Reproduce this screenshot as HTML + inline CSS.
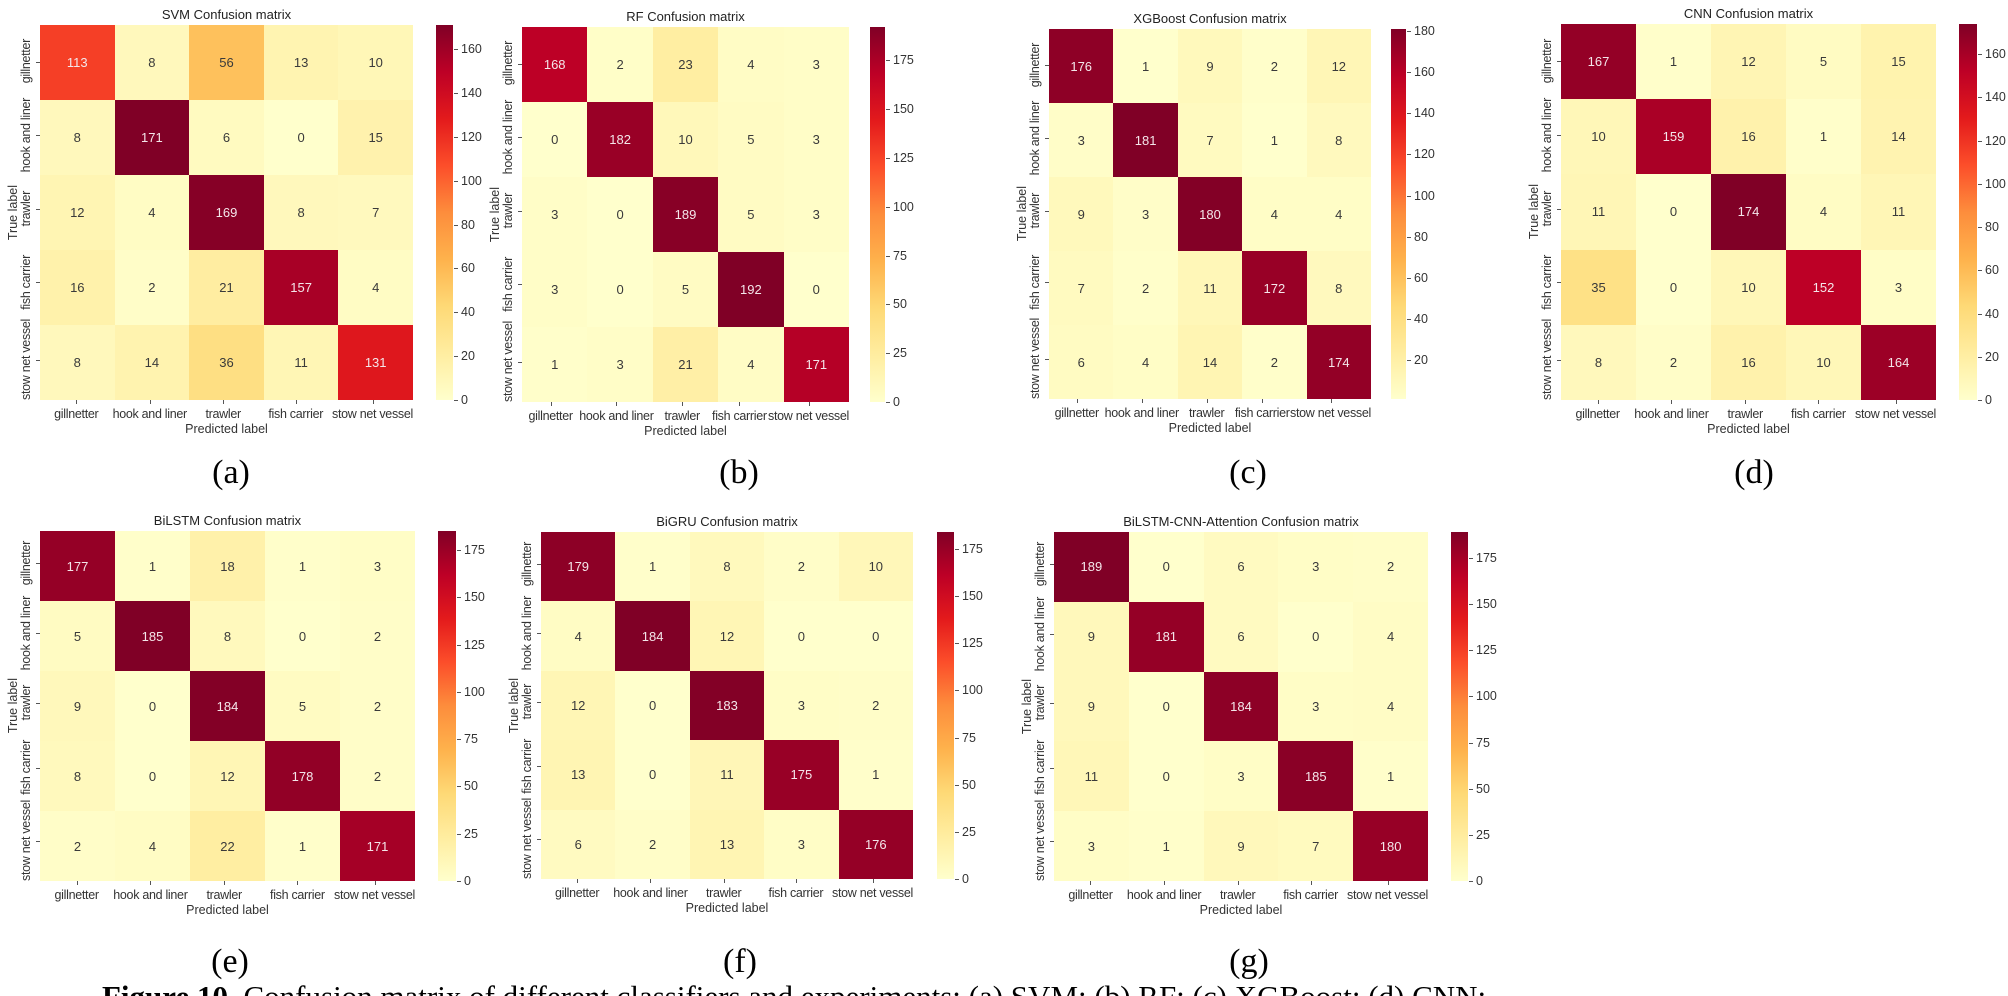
<!DOCTYPE html>
<html><head><meta charset="utf-8">
<style>
html,body{margin:0;padding:0;background:#fff;}
html{width:2008px;height:996px;overflow:hidden;}
body{width:2008px;height:996px;position:relative;overflow:hidden;font-family:"Liberation Sans","DejaVu Sans",sans-serif;color:#333;}
.hm{position:absolute;display:grid;grid-template-columns:repeat(5,1fr);grid-template-rows:repeat(5,1fr);}
.hm>div{display:flex;align-items:center;justify-content:center;font-size:13px;}
.title{position:absolute;bottom:100%;left:-50px;right:-50px;text-align:center;font-size:13px;color:#222;margin-bottom:3px;white-space:nowrap;}
.xt{position:absolute;top:100%;left:0;right:0;display:flex;margin-top:7px;}
.xt span{flex:1;text-align:center;font-size:12.5px;white-space:nowrap;position:relative;letter-spacing:-0.3px;}
.xt span::before{content:"";position:absolute;left:50%;top:-7px;width:1px;height:4px;background:#555;}
.xl{position:absolute;top:100%;left:0;right:0;text-align:center;font-size:12.5px;margin-top:22px;}
.yt{position:absolute;right:100%;top:0;bottom:0;width:16px;margin-right:6px;display:flex;flex-direction:column;}
.yt span{flex:1;display:flex;align-items:center;justify-content:center;position:relative;}
.yt span b{font-weight:normal;writing-mode:vertical-rl;transform:rotate(180deg);font-size:12.5px;white-space:nowrap;letter-spacing:-0.3px;}
.yt span::after{content:"";position:absolute;right:-6px;top:50%;width:4px;height:1px;background:#555;}
.yl{position:absolute;right:100%;top:0;bottom:0;width:14px;margin-right:20px;display:flex;align-items:center;justify-content:center;}
.yl b{font-weight:normal;writing-mode:vertical-rl;transform:rotate(180deg);font-size:12.5px;white-space:nowrap;}
.cb{position:absolute;background:linear-gradient(to top,#ffffcc 0%,#ffeda0 12.5%,#fed976 25%,#feb24c 37.5%,#fd8d3c 50%,#fc4e2a 62.5%,#e31a1c 75%,#bd0026 87.5%,#800026 100%);}
.cb span{position:absolute;left:100%;font-size:12.5px;white-space:nowrap;transform:translateY(-50%);padding-left:8px;}
.cb span::before{content:"";position:absolute;left:1px;top:50%;width:4px;height:1px;background:#555;}
.cap{position:absolute;font-family:"Liberation Serif",serif;font-size:34px;color:#000;transform:translateX(-50%);line-height:1;}
.fig{position:absolute;left:102px;top:981px;font-family:"Liberation Serif",serif;font-size:31px;color:#000;white-space:nowrap;line-height:1;}
</style></head><body>

<!-- (a) SVM -->
<div class="hm" id="p0" style="left:40px;top:25px;width:373px;height:375px;">
<div>113</div><div>8</div><div>56</div><div>13</div><div>10</div>
<div>8</div><div>171</div><div>6</div><div>0</div><div>15</div>
<div>12</div><div>4</div><div>169</div><div>8</div><div>7</div>
<div>16</div><div>2</div><div>21</div><div>157</div><div>4</div>
<div>8</div><div>14</div><div>36</div><div>11</div><div>131</div>
<span class="title">SVM Confusion matrix</span>
<span class="xt"><span>gillnetter</span><span>hook and liner</span><span>trawler</span><span>fish carrier</span><span>stow net vessel</span></span>
<span class="xl">Predicted label</span>
<span class="yt"><span><b>gillnetter</b></span><span><b>hook and liner</b></span><span><b>trawler</b></span><span><b>fish carrier</b></span><span><b>stow net vessel</b></span></span>
<span class="yl"><b>True label</b></span>
</div>
<div class="cb" id="c0" style="left:436px;top:25px;width:17px;height:375px;"><span>0</span><span>20</span><span>40</span><span>60</span><span>80</span><span>100</span><span>120</span><span>140</span><span>160</span></div>

<!-- (b) RF -->
<div class="hm" id="p1" style="left:522px;top:27px;width:327px;height:375px;">
<div>168</div><div>2</div><div>23</div><div>4</div><div>3</div>
<div>0</div><div>182</div><div>10</div><div>5</div><div>3</div>
<div>3</div><div>0</div><div>189</div><div>5</div><div>3</div>
<div>3</div><div>0</div><div>5</div><div>192</div><div>0</div>
<div>1</div><div>3</div><div>21</div><div>4</div><div>171</div>
<span class="title">RF Confusion matrix</span>
<span class="xt"><span>gillnetter</span><span>hook and liner</span><span>trawler</span><span>fish carrier</span><span>stow net vessel</span></span>
<span class="xl">Predicted label</span>
<span class="yt"><span><b>gillnetter</b></span><span><b>hook and liner</b></span><span><b>trawler</b></span><span><b>fish carrier</b></span><span><b>stow net vessel</b></span></span>
<span class="yl"><b>True label</b></span>
</div>
<div class="cb" id="c1" style="left:870px;top:27px;width:15px;height:375px;"><span>0</span><span>25</span><span>50</span><span>75</span><span>100</span><span>125</span><span>150</span><span>175</span></div>

<!-- (c) XGBoost -->
<div class="hm" id="p2" style="left:1049px;top:29px;width:322px;height:370px;">
<div>176</div><div>1</div><div>9</div><div>2</div><div>12</div>
<div>3</div><div>181</div><div>7</div><div>1</div><div>8</div>
<div>9</div><div>3</div><div>180</div><div>4</div><div>4</div>
<div>7</div><div>2</div><div>11</div><div>172</div><div>8</div>
<div>6</div><div>4</div><div>14</div><div>2</div><div>174</div>
<span class="title">XGBoost Confusion matrix</span>
<span class="xt"><span>gillnetter</span><span>hook and liner</span><span>trawler</span><span>fish carrier</span><span>stow net vessel</span></span>
<span class="xl">Predicted label</span>
<span class="yt"><span><b>gillnetter</b></span><span><b>hook and liner</b></span><span><b>trawler</b></span><span><b>fish carrier</b></span><span><b>stow net vessel</b></span></span>
<span class="yl"><b>True label</b></span>
</div>
<div class="cb" id="c2" style="left:1391px;top:29px;width:15px;height:370px;"><span>20</span><span>40</span><span>60</span><span>80</span><span>100</span><span>120</span><span>140</span><span>160</span><span>180</span></div>

<!-- (d) CNN -->
<div class="hm" id="p3" style="left:1561px;top:24px;width:375px;height:376px;">
<div>167</div><div>1</div><div>12</div><div>5</div><div>15</div>
<div>10</div><div>159</div><div>16</div><div>1</div><div>14</div>
<div>11</div><div>0</div><div>174</div><div>4</div><div>11</div>
<div>35</div><div>0</div><div>10</div><div>152</div><div>3</div>
<div>8</div><div>2</div><div>16</div><div>10</div><div>164</div>
<span class="title">CNN Confusion matrix</span>
<span class="xt"><span>gillnetter</span><span>hook and liner</span><span>trawler</span><span>fish carrier</span><span>stow net vessel</span></span>
<span class="xl">Predicted label</span>
<span class="yt"><span><b>gillnetter</b></span><span><b>hook and liner</b></span><span><b>trawler</b></span><span><b>fish carrier</b></span><span><b>stow net vessel</b></span></span>
<span class="yl"><b>True label</b></span>
</div>
<div class="cb" id="c3" style="left:1959px;top:24px;width:18px;height:376px;"><span>0</span><span>20</span><span>40</span><span>60</span><span>80</span><span>100</span><span>120</span><span>140</span><span>160</span></div>

<!-- (e) BiLSTM -->
<div class="hm" id="p4" style="left:40px;top:531px;width:375px;height:350px;">
<div>177</div><div>1</div><div>18</div><div>1</div><div>3</div>
<div>5</div><div>185</div><div>8</div><div>0</div><div>2</div>
<div>9</div><div>0</div><div>184</div><div>5</div><div>2</div>
<div>8</div><div>0</div><div>12</div><div>178</div><div>2</div>
<div>2</div><div>4</div><div>22</div><div>1</div><div>171</div>
<span class="title">BiLSTM Confusion matrix</span>
<span class="xt"><span>gillnetter</span><span>hook and liner</span><span>trawler</span><span>fish carrier</span><span>stow net vessel</span></span>
<span class="xl">Predicted label</span>
<span class="yt"><span><b>gillnetter</b></span><span><b>hook and liner</b></span><span><b>trawler</b></span><span><b>fish carrier</b></span><span><b>stow net vessel</b></span></span>
<span class="yl"><b>True label</b></span>
</div>
<div class="cb" id="c4" style="left:438px;top:531px;width:18px;height:350px;"><span>0</span><span>25</span><span>50</span><span>75</span><span>100</span><span>125</span><span>150</span><span>175</span></div>

<!-- (f) BiGRU -->
<div class="hm" id="p5" style="left:541px;top:532px;width:372px;height:347px;">
<div>179</div><div>1</div><div>8</div><div>2</div><div>10</div>
<div>4</div><div>184</div><div>12</div><div>0</div><div>0</div>
<div>12</div><div>0</div><div>183</div><div>3</div><div>2</div>
<div>13</div><div>0</div><div>11</div><div>175</div><div>1</div>
<div>6</div><div>2</div><div>13</div><div>3</div><div>176</div>
<span class="title">BiGRU Confusion matrix</span>
<span class="xt"><span>gillnetter</span><span>hook and liner</span><span>trawler</span><span>fish carrier</span><span>stow net vessel</span></span>
<span class="xl">Predicted label</span>
<span class="yt"><span><b>gillnetter</b></span><span><b>hook and liner</b></span><span><b>trawler</b></span><span><b>fish carrier</b></span><span><b>stow net vessel</b></span></span>
<span class="yl"><b>True label</b></span>
</div>
<div class="cb" id="c5" style="left:937px;top:532px;width:17px;height:347px;"><span>0</span><span>25</span><span>50</span><span>75</span><span>100</span><span>125</span><span>150</span><span>175</span></div>

<!-- (g) BiLSTM-CNN-Attention -->
<div class="hm" id="p6" style="left:1054px;top:532px;width:374px;height:349px;">
<div>189</div><div>0</div><div>6</div><div>3</div><div>2</div>
<div>9</div><div>181</div><div>6</div><div>0</div><div>4</div>
<div>9</div><div>0</div><div>184</div><div>3</div><div>4</div>
<div>11</div><div>0</div><div>3</div><div>185</div><div>1</div>
<div>3</div><div>1</div><div>9</div><div>7</div><div>180</div>
<span class="title">BiLSTM-CNN-Attention Confusion matrix</span>
<span class="xt"><span>gillnetter</span><span>hook and liner</span><span>trawler</span><span>fish carrier</span><span>stow net vessel</span></span>
<span class="xl">Predicted label</span>
<span class="yt"><span><b>gillnetter</b></span><span><b>hook and liner</b></span><span><b>trawler</b></span><span><b>fish carrier</b></span><span><b>stow net vessel</b></span></span>
<span class="yl"><b>True label</b></span>
</div>
<div class="cb" id="c6" style="left:1451px;top:532px;width:17px;height:349px;"><span>0</span><span>25</span><span>50</span><span>75</span><span>100</span><span>125</span><span>150</span><span>175</span></div>

<div class="cap" style="left:231px;top:456px;">(a)</div>
<div class="cap" style="left:739px;top:456px;">(b)</div>
<div class="cap" style="left:1248px;top:456px;">(c)</div>
<div class="cap" style="left:1754px;top:456px;">(d)</div>
<div class="cap" style="left:230px;top:945px;">(e)</div>
<div class="cap" style="left:740px;top:945px;">(f)</div>
<div class="cap" style="left:1249px;top:945px;">(g)</div>
<div class="fig"><b>Figure 10.</b> Confusion matrix of different classifiers and experiments: (a) SVM; (b) RF; (c) XGBoost; (d) CNN;</div>

<script>
var stops=[[255,255,204],[255,237,160],[254,217,118],[254,178,76],[253,141,60],[252,78,42],[227,26,28],[189,0,38],[128,0,38]];
function col(t){t=Math.max(0,Math.min(1,t));var s=t*8,i=Math.min(7,Math.floor(s)),f=s-i,a=stops[i],b=stops[i+1];
return 'rgb('+[0,1,2].map(function(k){return Math.round(a[k]+(b[k]-a[k])*f);}).join(',')+')';}
var rng=[[0,171],[0,192],[1,181],[0,174],[0,185],[0,184],[0,189]];
for(var p=0;p<7;p++){
  var hm=document.getElementById('p'+p),mn=rng[p][0],mx=rng[p][1];
  var cells=hm.querySelectorAll(':scope > div');
  cells.forEach(function(c){var v=parseFloat(c.textContent),t=(v-mn)/(mx-mn);
    c.style.background=col(t);c.style.color=t>0.5?'#f4e6ea':'#3a3a3a';});
  var cb=document.getElementById('c'+p),h=cb.offsetHeight;
  cb.querySelectorAll('span').forEach(function(s){var v=parseFloat(s.textContent);
    s.style.top=(h-(v-mn)/(mx-mn)*h)+'px';});
}
</script>
</body></html>
